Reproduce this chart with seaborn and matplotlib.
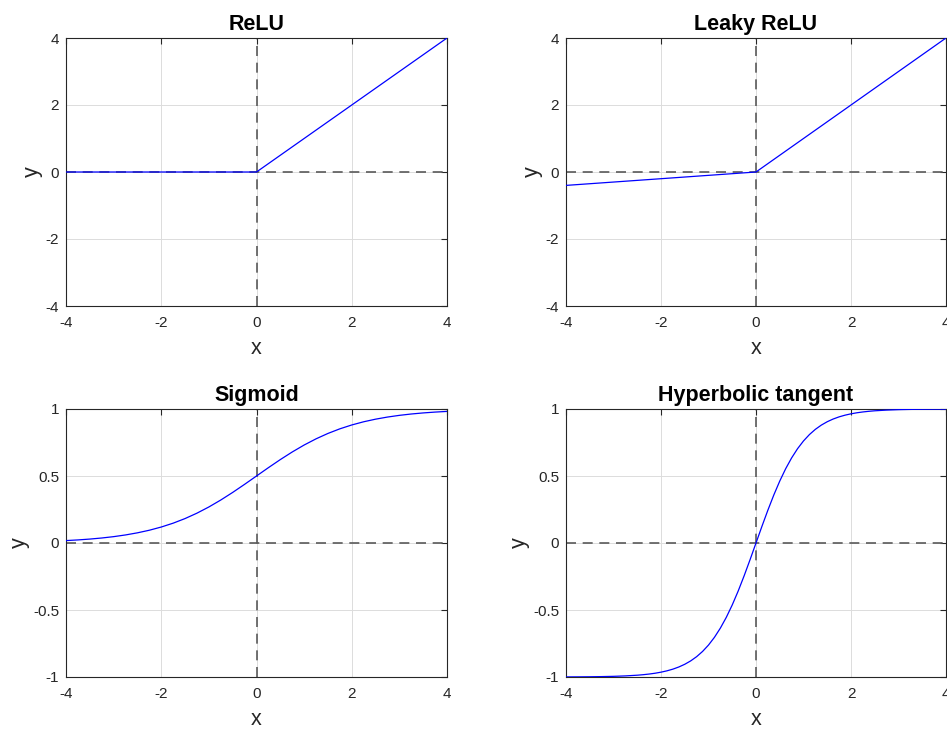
import numpy as np
import pandas as pd
import matplotlib
matplotlib.use("Agg")
import matplotlib.pyplot as plt
import seaborn as sns

# ---- data ----
x_lin = [-4, 0, 4]
relu_y = [0, 0, 4]
leaky_y = [-0.4, 0, 4]

x_sig = [-4.0, -3.75, -3.5, -3.25, -3.0, -2.75, -2.5, -2.25, -2.0, -1.75, -1.5, -1.25,
         -1.0, -0.75, -0.5, -0.25, 0.0, 0.25, 0.5, 0.75, 1.0, 1.25, 1.5, 1.75,
         2.0, 2.25, 2.5, 2.75, 3.0, 3.25, 3.5, 3.75, 4.0]
sigmoid_y = [0.0180, 0.0230, 0.0293, 0.0373, 0.0474, 0.0601, 0.0759, 0.0953, 0.1192, 0.1480,
             0.1824, 0.2227, 0.2689, 0.3208, 0.3775, 0.4378, 0.5000, 0.5622, 0.6225, 0.6792,
             0.7311, 0.7773, 0.8176, 0.8520, 0.8808, 0.9047, 0.9241, 0.9399, 0.9526, 0.9627,
             0.9707, 0.9770, 0.9820]

x_tanh = [-4.0, -3.75, -3.5, -3.25, -3.0, -2.75, -2.5, -2.375, -2.25, -2.125, -2.0, -1.875,
          -1.75, -1.625, -1.5, -1.375, -1.25, -1.125, -1.0, -0.875, -0.75, -0.625, -0.5,
          -0.375, -0.25, -0.125, 0.0, 0.125, 0.25, 0.375, 0.5, 0.625, 0.75, 0.875, 1.0,
          1.125, 1.25, 1.375, 1.5, 1.625, 1.75, 1.875, 2.0, 2.125, 2.25, 2.375, 2.5,
          2.75, 3.0, 3.25, 3.5, 3.75, 4.0]
tanh_y = [-0.9993, -0.9989, -0.9982, -0.9970, -0.9951, -0.9918, -0.9866, -0.9828, -0.9780,
          -0.9719, -0.9640, -0.9540, -0.9414, -0.9253, -0.9051, -0.8798, -0.8483, -0.8093,
          -0.7616, -0.7039, -0.6351, -0.5546, -0.4621, -0.3584, -0.2449, -0.1244, 0.0,
          0.1244, 0.2449, 0.3584, 0.4621, 0.5546, 0.6351, 0.7039, 0.7616, 0.8093, 0.8483,
          0.8798, 0.9051, 0.9253, 0.9414, 0.9540, 0.9640, 0.9719, 0.9780, 0.9828, 0.9866,
          0.9918, 0.9951, 0.9970, 0.9982, 0.9989, 0.9993]

titles = ["ReLU", "Leaky ReLU", "Sigmoid", "Hyperbolic tangent"]
x_ticks = [-4, -2, 0, 2, 4]
y_ticks_top = [-4, -2, 0, 2, 4]
y_ticks_bot = [-1, -0.5, 0, 0.5, 1]
y_ticklabels_bot = ["-1", "-0.5", "0", "0.5", "1"]

sns.set_style("white")
plt.rcParams['font.family'] = ['Liberation Sans', 'DejaVu Sans']

fig = plt.figure(figsize=(9.47, 7.29), dpi=100)
W, H = 947, 729
def px_axes(l, r, t, b):
    return fig.add_axes([l / W, 1 - b / H, (r - l) / W, (b - t) / H])

axes = [px_axes(66, 447, 38, 306), px_axes(566, 946, 38, 306),
        px_axes(66, 447, 409, 677), px_axes(566, 946, 409, 677)]

series = [(x_lin, relu_y), (x_lin, leaky_y), (x_sig, sigmoid_y), (x_tanh, tanh_y)]

for i, ax in enumerate(axes):
    xs, ys = series[i]
    df = pd.DataFrame({"x": xs, "y": ys})
    top = i < 2
    ax.set_xlim(-4, 4)
    if top:
        ax.set_ylim(-4, 4)
        ax.set_yticks(y_ticks_top)
        ax.set_yticklabels([str(v) for v in y_ticks_top])
    else:
        ax.set_ylim(-1, 1)
        ax.set_yticks(y_ticks_bot)
        ax.set_yticklabels(y_ticklabels_bot)
    ax.set_xticks(x_ticks)
    ax.set_xticklabels([str(v) for v in x_ticks])
    ax.grid(True, color="#dcdcdc", linewidth=0.7, zorder=0)
    ax.set_axisbelow(True)
    ax.axhline(0, color="#5a5a5a", linestyle=(0, (6, 4)), linewidth=1.2, zorder=2)
    ax.axvline(0, color="#5a5a5a", linestyle=(0, (6, 4)), linewidth=1.2, zorder=2)
    sns.lineplot(data=df, x="x", y="y", ax=ax, color="#0000ff", linewidth=0.9, zorder=3,
                 estimator=None, sort=False)
    ax.set_title(titles[i], fontsize=15.5, fontweight="bold", color="black", pad=6)
    ax.set_xlabel("x", fontsize=15.5, color="#262626", labelpad=6)
    ax.set_ylabel("y", fontsize=15.5, color="#262626", labelpad=2)
    ax.tick_params(axis="x", pad=7)
    ax.tick_params(axis="y", pad=5)
    ax.tick_params(axis="both", which="both", direction="in", length=4, width=0.8,
                   top=True, right=True, labelsize=11, colors="#262626")
    for s in ax.spines.values():
        s.set_visible(True)
        s.set_color("#262626")
        s.set_linewidth(0.8)

fig.savefig("out.png", dpi=100)
